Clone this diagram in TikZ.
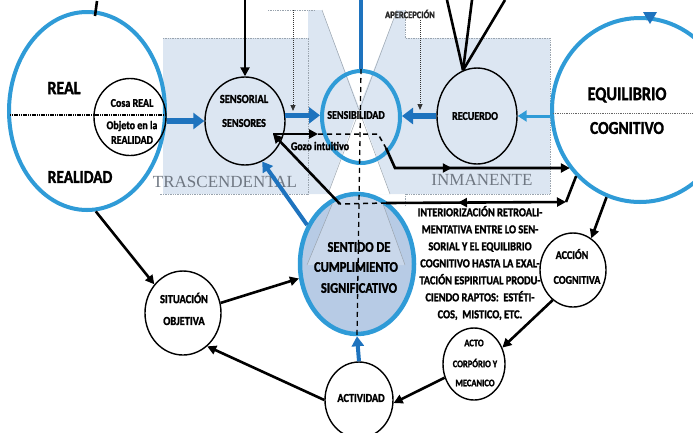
\documentclass[tikz,border=0pt]{standalone}
\usepackage{fontspec}
\setmainfont{Carlito}[FakeStretch=0.85, BoldFeatures={FakeBold=1.6}]
\newfontfamily\serifg{Liberation Serif}
\usetikzlibrary{shapes.geometric,arrows.meta,decorations.markings,calc}
\definecolor{cyanB}{HTML}{2F9BD7}
\definecolor{arrB}{HTML}{1E73BE}
\definecolor{lbg}{HTML}{DCE6F2}
\definecolor{sfill}{HTML}{B7CBE5}
\definecolor{tfill}{HTML}{C9D7EA}
\definecolor{gline}{HTML}{9AA4AE}
\definecolor{gtext}{HTML}{6F7782}
\newcommand\fsz[1]{\fontsize{#1}{#1}\selectfont}
\begin{document}
\begin{tikzpicture}[x=1pt,y=-1pt,
  circ/.style={ellipse, draw=black, line width=1.4pt, inner sep=0pt},
  bcirc/.style={ellipse, draw=cyanB, line width=4pt, inner sep=0pt},
  lab/.style={inner sep=0pt, font=\bfseries\fsz{#1}},
  blk/.style={line width=2.6pt, draw=black},
  blkar/.style={blk, -{Triangle[length=9pt,width=9pt]}},
  dsh/.style={line width=1.5pt, draw=black, dash pattern=on 5pt off 4pt},
  dotar/.style={line width=1pt, draw=black!80, dash pattern=on 1pt off 1pt, -{Triangle[length=6pt,width=5pt]}},
  bluear/.style={line width=5.5pt, draw=arrB, -{Triangle[length=11pt,width=16pt]}},
  cyanar/.style={line width=3pt, draw=cyanB, -{Triangle[length=9pt,width=11pt]}},
  midar/.style={postaction={decorate, decoration={markings, mark=at position #1 with {\arrow{Triangle[length=9pt,width=9pt]}}}}},
  gbord/.style={draw=gline, line width=0.7pt, densely dotted}
]
\useasboundingbox (0,0) rectangle (693,432);

% ---- background regions
\fill[lbg] (163,38) -- (308,38) -- (308,10) -- (405,10) -- (405,38) -- (550,38) -- (550,194) -- (163,194) -- cycle;
\fill[white] (322,10) -- (397,10) -- (359,107) -- cycle;
\fill[white] (359,107) -- (390,194) -- (328,194) -- cycle;
\draw[gline, line width=0.5pt] (322,10) -- (390,194);
\draw[gline, line width=0.5pt] (397,10) -- (328,194);
\draw[gbord] (268,10) -- (315,10);
\draw[gbord] (163,38) -- (308,38) -- (308,194) -- (160,194);
\draw[gbord] (405,10) -- (405,38) -- (550,38) -- (550,194) -- (405,194) -- (405,205);

\node[text=gtext, inner sep=0pt, font=\serifg\fsz{17}] (trasc) at (225,182) {TRASCENDENTAL};
\node[text=gtext, inner sep=0pt, font=\serifg\fsz{17}] (inman) at (482,180) {INMANENTE};
\node[lab=10, text=black!85] (aperc) at (410,14) {APERCEPCIÓN};

% ---- circles
\node[bcirc, fill=white, minimum width=156pt, minimum height=198pt] (real) at (87,111) {};
\node[circ, minimum width=72pt, minimum height=77pt] (cosa) at (130,117) {};
\node[circ, minimum width=80pt, minimum height=88pt] (sensorial) at (245,121) {};
\node[bcirc, minimum width=78pt, minimum height=92pt] (sensib) at (361,117) {};
\node[circ, minimum width=80pt, minimum height=96pt] (recuerdo) at (477,116) {};
\node[bcirc, fill=white, minimum width=176pt, minimum height=184pt] (equil) at (640,110) {};
\node[circ, minimum width=76pt, minimum height=84pt] (situacion) at (183,313) {};
\node[bcirc, fill=sfill, line width=4.5pt, minimum width=114pt, minimum height=140pt] (sentido) at (357,264) {};
\node[circ, minimum width=66pt, minimum height=74pt] (accion) at (573,270) {};
\node[circ, minimum width=62pt, minimum height=72pt] (acto) at (474,364) {};
\node[circ, minimum width=68pt, minimum height=76pt] (actividad) at (359,400) {};

\begin{scope}
  \clip (357,264) ellipse [x radius=54.5, y radius=67.5];
  \fill[tfill] (338,190) -- (378,190) -- (405,265) -- (307,265) -- cycle;
  \draw[gline, line width=0.5pt] (338,190) -- (307,265);
  \draw[gline, line width=0.5pt] (378,190) -- (405,265);
\end{scope}

% ---- free ends
\coordinate (tick1) at (97,1);
\coordinate (tick2) at (95,16);
\coordinate (realL) at (10,115);
\coordinate (realR) at (165,115);
\coordinate (eqL) at (553,113);
\coordinate (eqR) at (693,113);
\coordinate (topS) at (245,0);
\coordinate (dA1) at (293,10);
\coordinate (dA2) at (293,111);
\coordinate (dB1) at (420,20);
\coordinate (dB2) at (420,110);
\coordinate (r1) at (447,0);
\coordinate (r2) at (472,0);
\coordinate (r3) at (505,0);
\coordinate (topB) at (361,0);
\coordinate (gz) at (273,134);
\coordinate (gzE) at (318,134);
\coordinate (d1) at (378,134);
\coordinate (c1) at (386,148);
\coordinate (c2) at (395,168);
\coordinate (lc) at (566,202);
\coordinate (ld) at (386,203);
\coordinate (st) at (340,204);

% ---- lines inside circles
\draw[line width=1.6pt, dash pattern=on 1.2pt off 0.6pt] (realL) -- (realR);
\draw[line width=0.8pt, black!60, densely dotted] (eqL) -- (eqR);
\draw[dsh, line width=1.3pt] (sensib.north) -- (sentido.south);
\fill[arrB] (643,12) -- (657,12) -- (650,24) -- cycle;

% ---- connectors
\draw[blk] (tick1) -- (tick2);
\draw[blkar] (topS) -- (sensorial.north);
\draw[dotar] (dA1) -- (dA2);
\draw[dotar] (dB1) -- (dB2);
\draw[blk] (r1) -- (recuerdo.107);
\draw[blk] (r2) -- (recuerdo.107);
\draw[blk] (r3) -- (recuerdo.107);
\draw[line width=4.5pt, draw=arrB] (topB) -- (sensib.north);
\draw[bluear] (real.east |- sensorial.west) -- (sensorial.west);
\draw[bluear] (sensorial.8) -- (sensorial.8 -| sensib.west);
\draw[bluear] (recuerdo.west) -- (recuerdo.west -| sensib.east);
\draw[cyanar] (recuerdo.east -| equil.west) -- (recuerdo.east);

\draw[blkar] (gz) -- (gzE);
\draw[dsh] (gzE) -- (d1) -- (c1);
\draw[blkar, midar=0.4] (c1) -- (c2) -- (c2 -| equil.220);

\draw[blk] (equil.226) -- (lc);
\draw[blk, {Triangle[length=9pt,width=9pt]}-, midar=0.6] (lc) -- (ld);
\draw[dsh] (ld) -- (st);
\draw[blkar] (st) -- (gz);

\draw[line width=4pt, draw=arrB, -{Triangle[length=10pt,width=12pt]}] (sentido.142) -- (sensorial.-67);
\draw[line width=4pt, draw=arrB, -{Triangle[length=10pt,width=12pt]}] (actividad.north) -- (sentido.south);

\draw[blkar] (real.-85) -- (situacion.135);
\draw[blkar] (situacion.15) -- (sentido.194);
\draw[blkar] (actividad.180) -- (situacion.-54);
\draw[blkar] (acto.205) -- (actividad.-5);
\draw[blkar] (accion.236) -- (acto.30);
\draw[blkar] (equil.249) -- (accion.60);

% ---- texts
\node[lab=18.8] (tReal) at (64,88) {REAL};
\node[lab=18.2] (tRealidad) at (80,177) {REALIDAD};
\node[lab=11.8] (tCosa) at (132,103) {Cosa REAL};
\node[lab=11.8] (tObj) at (132,126) {Objeto en la};
\node[lab=11.8] (tObj2) at (132,140) {REALIDAD};
\node[lab=12.3] (tSens1) at (244,99) {SENSORIAL};
\node[lab=12] (tSens2) at (244,123) {SENSORES};
\node[lab=11.8] (tSensib) at (356,115) {SENSIBILIDAD};
\node[lab=11.8] (tRec) at (475,116) {RECUERDO};
\node[lab=11.8] (tGozo) at (320,146) {Gozo intuitivo};
\node[lab=19.2] (tEq1) at (627,95) {EQUILIBRIO};
\node[lab=18.2] (tEq2) at (627,128) {COGNITIVO};
\node[lab=12.3] (tSit1) at (184,298) {SITUACIÓN};
\node[lab=12.3] (tSit2) at (184,321) {OBJETIVA};
\node[lab=14.7] (tSent1) at (359,247) {SENTIDO DE};
\node[lab=14.7] (tSent2) at (356,267) {CUMPLIMIENTO};
\node[lab=14.7] (tSent3) at (359,288) {SIGNIFICATIVO};
\node[lab=11.8] (tAcc1) at (572,254) {ACCIÓN};
\node[lab=11.8] (tAcc2) at (577,280) {COGNITIVA};
\node[lab=10] (tActo1) at (474,343) {ACTO};
\node[lab=10] (tActo2) at (475,363) {CORPÓRIO Y};
\node[lab=10] (tActo3) at (475,383) {MECANICO};
\node[lab=12.1] (tActiv) at (361,398) {ACTIVIDAD};
\node[inner sep=0pt, align=center, font=\bfseries\fontsize{12.2}{17}\selectfont] (tInt) at (480,263)
  {INTERIORIZACIÓN RETROALI-\\MENTATIVA ENTRE LO SEN-\\SORIAL Y EL EQUILIBRIO\\COGNITIVO HASTA LA EXAL-\\TACIÓN ESPIRITUAL PRODU-\\CIENDO RAPTOS:~~ESTÉTI-\\COS,~~MISTICO, ETC.};
\end{tikzpicture}
\end{document}
